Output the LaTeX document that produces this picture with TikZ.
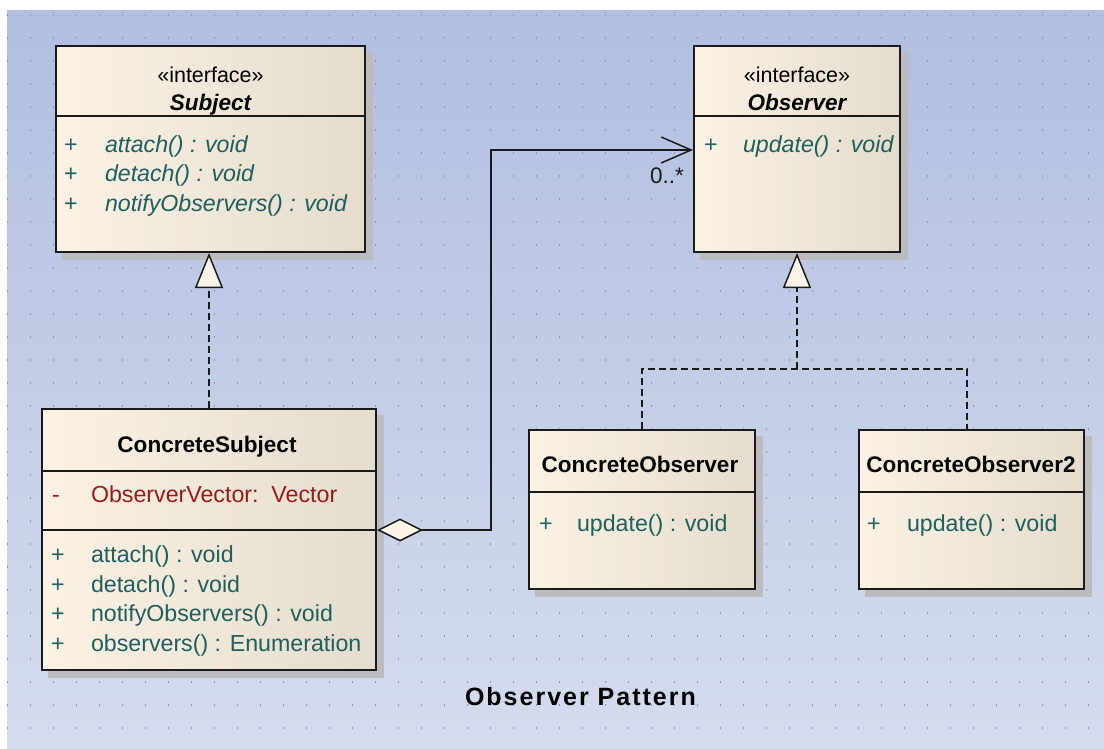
\documentclass[tikz,border=0pt]{standalone}
\usepackage{fontspec}
\setmainfont{Liberation Sans}
\usetikzlibrary{arrows.meta,backgrounds}

\definecolor{edge}{RGB}{26,26,26}
\definecolor{fillA}{RGB}{251,242,228}
\definecolor{fillB}{RGB}{228,220,205}
\definecolor{cream}{RGB}{250,244,232}
\definecolor{shadowc}{RGB}{188,188,192}
\definecolor{bgtop}{RGB}{176,190,224}
\definecolor{bgbot}{RGB}{213,220,238}
\definecolor{dotc}{RGB}{138,152,192}
\definecolor{memc}{RGB}{30,95,95}
\definecolor{attrc}{RGB}{158,25,25}

\newcommand\mfont{\fontsize{17.4pt}{20pt}\selectfont}
\newcommand\nmfont{\fontsize{16.9pt}{20pt}\selectfont}
\newcommand\stfont{\fontsize{16.1pt}{19pt}\selectfont}
\newcommand\ttlfont{\fontsize{18.75pt}{22pt}\selectfont\bfseries\addfontfeature{LetterSpace=8}}

\tikzset{
  classbox/.style={draw=edge, line width=1.5pt, inner sep=0pt,
    left color=fillA, middle color=fillA, right color=fillB},
  boxsize/.style 2 args={minimum width={#1*0.75pt}, minimum height={#2*0.75pt}},
  divider/.style={draw=edge, line width=1.5pt},
  txt/.style={inner sep=0pt, outer sep=0pt},
  stereo/.style={txt, anchor=base, font=\stfont, text=black},
  ifname/.style={txt, anchor=base, font=\nmfont\bfseries\itshape, text=black},
  clname/.style={txt, anchor=base, font=\nmfont\bfseries, text=black},
  member/.style={txt, anchor=base west, font=\mfont, text=memc},
  imember/.style={member, font=\mfont\itshape},
  attr/.style={member, text=attrc},
  mult/.style={txt, anchor=base west, font=\nmfont, text=edge},
  ttl/.style={txt, anchor=base west, font=\ttlfont, text=black},
  conn/.style={draw=edge, line width=1.1pt},
  dashline/.style={conn, dash pattern=on 5.25pt off 3pt},
  realize/.style={dashline, arrows={-Triangle[length=26.25pt, width=21pt, fill=cream]}},
  aggr/.style={conn, arrows={Diamond[length=34.5pt, width=17.25pt, fill=cream]-Straight Barb[length=22.5pt, width=19.5pt]}},
}

\begin{document}
\begin{tikzpicture}[x=0.75pt, y=-0.75pt]
\useasboundingbox (0,0) rectangle (1104,749);

% canvas: white margin, blue gradient, dotted grid
\begin{scope}[on background layer]
  \fill[white] (0,0) rectangle (1104,749);
  \shade[top color=bgtop, bottom color=bgbot] (7,11) rectangle (1104,749);
  \foreach \i in {0,...,47}
    \foreach \j in {0,...,31}
      \fill[dotc] ({7.5+23*\i-0.7},{15+23*\j-0.7}) rectangle ++(1.4,1.4);
\end{scope}

% class boxes
\node[classbox, boxsize={309}{206}] (subj) at (210.5,149) {};
\node[classbox, boxsize={206}{206}] (obs)  at (797,149) {};
\node[classbox, boxsize={334}{261}] (cs)   at (209,539.5) {};
\node[classbox, boxsize={226}{159}] (co1)  at (642,509.5) {};
\node[classbox, boxsize={225}{159}] (co2)  at (971.5,509.5) {};

% drop shadows behind the boxes
\begin{scope}[on background layer]
  \foreach \n in {subj,obs,cs,co1,co2}
    \fill[shadowc] ([shift={(7,7)}]\n.south west) rectangle ([shift={(7,7)}]\n.north east);
\end{scope}

% compartment dividers
\draw[divider] (subj.west |- 0,116) -- (subj.east |- 0,116);
\draw[divider] (obs.west |- 0,116) -- (obs.east |- 0,116);
\draw[divider] (cs.west |- 0,471) -- (cs.east |- 0,471);
\draw[divider] (cs.west |- 0,530) -- (cs.east |- 0,530);
\draw[divider] (co1.west |- 0,492) -- (co1.east |- 0,492);
\draw[divider] (co2.west |- 0,492) -- (co2.east |- 0,492);

% Subject
\node[stereo] (subjst) at (210.5,83) {«interface»};
\node[ifname] (subjnm) at (210.5,111) {Subject};
\node[member]  (s1v) at (64,152) {+};
\node[imember] (s1)  at (105,152) {attach() : void};
\node[member]  (s2v) at (64,181) {+};
\node[imember] (s2)  at (105,181) {detach() : void};
\node[member]  (s3v) at (64,211) {+};
\node[imember] (s3)  at (105,211) {notifyObservers() : void};

% Observer
\node[stereo] (obsst) at (797,83) {«interface»};
\node[ifname] (obsnm) at (797,111) {Observer};
\node[member]  (o1v) at (704,152) {+};
\node[imember] (o1)  at (743,152) {update() : void};

% ConcreteSubject
\node[clname] (csnm) at (207,452) {ConcreteSubject};
\node[attr]   (a1v)  at (52,502) {-};
\node[attr]   (a1)   at (91,502) {ObserverVector:\ \ Vector};
\node[member] (c1v)  at (51,562) {+};
\node[member] (c1)   at (91,562) {attach() : void};
\node[member] (c2v)  at (51,592) {+};
\node[member] (c2)   at (91,592) {detach() : void};
\node[member] (c3v)  at (51,621) {+};
\node[member] (c3)   at (91,621) {notifyObservers() : void};
\node[member] (c4v)  at (51,651) {+};
\node[member] (c4)   at (91,651) {observers() : Enumeration};

% ConcreteObserver
\node[clname] (co1nm) at (640,472) {ConcreteObserver};
\node[member] (u1v)   at (539,531) {+};
\node[member] (u1)    at (577,531) {update() : void};

% ConcreteObserver2
\node[clname] (co2nm) at (971,472) {ConcreteObserver2};
\node[member] (u2v)   at (867,531) {+};
\node[member] (u2)    at (907,531) {update() : void};

% realization of Subject
\draw[realize] (cs.north) -- (cs.north |- subj.south);

% realization of Observer
\coordinate (bus) at (0,369);
\draw[dashline] (co1.north) |- (obs.south |- bus) -| (co2.north -| 967,0);
\draw[realize] (obs.south |- bus) -- (obs.south);

% aggregation ConcreteSubject -> Observer
\coordinate (agg) at (cs.east |- 0,530);
\coordinate (elbow) at (491,150);
\coordinate (tgt) at (obs.west |- elbow);
\draw[aggr] (agg) -| (elbow) -- (tgt);
\node[mult] (mul) at (650,183) {0..*};

% diagram title
\node[ttl] (title) at (465,705) {Observer Pattern};
\end{tikzpicture}
\end{document}
